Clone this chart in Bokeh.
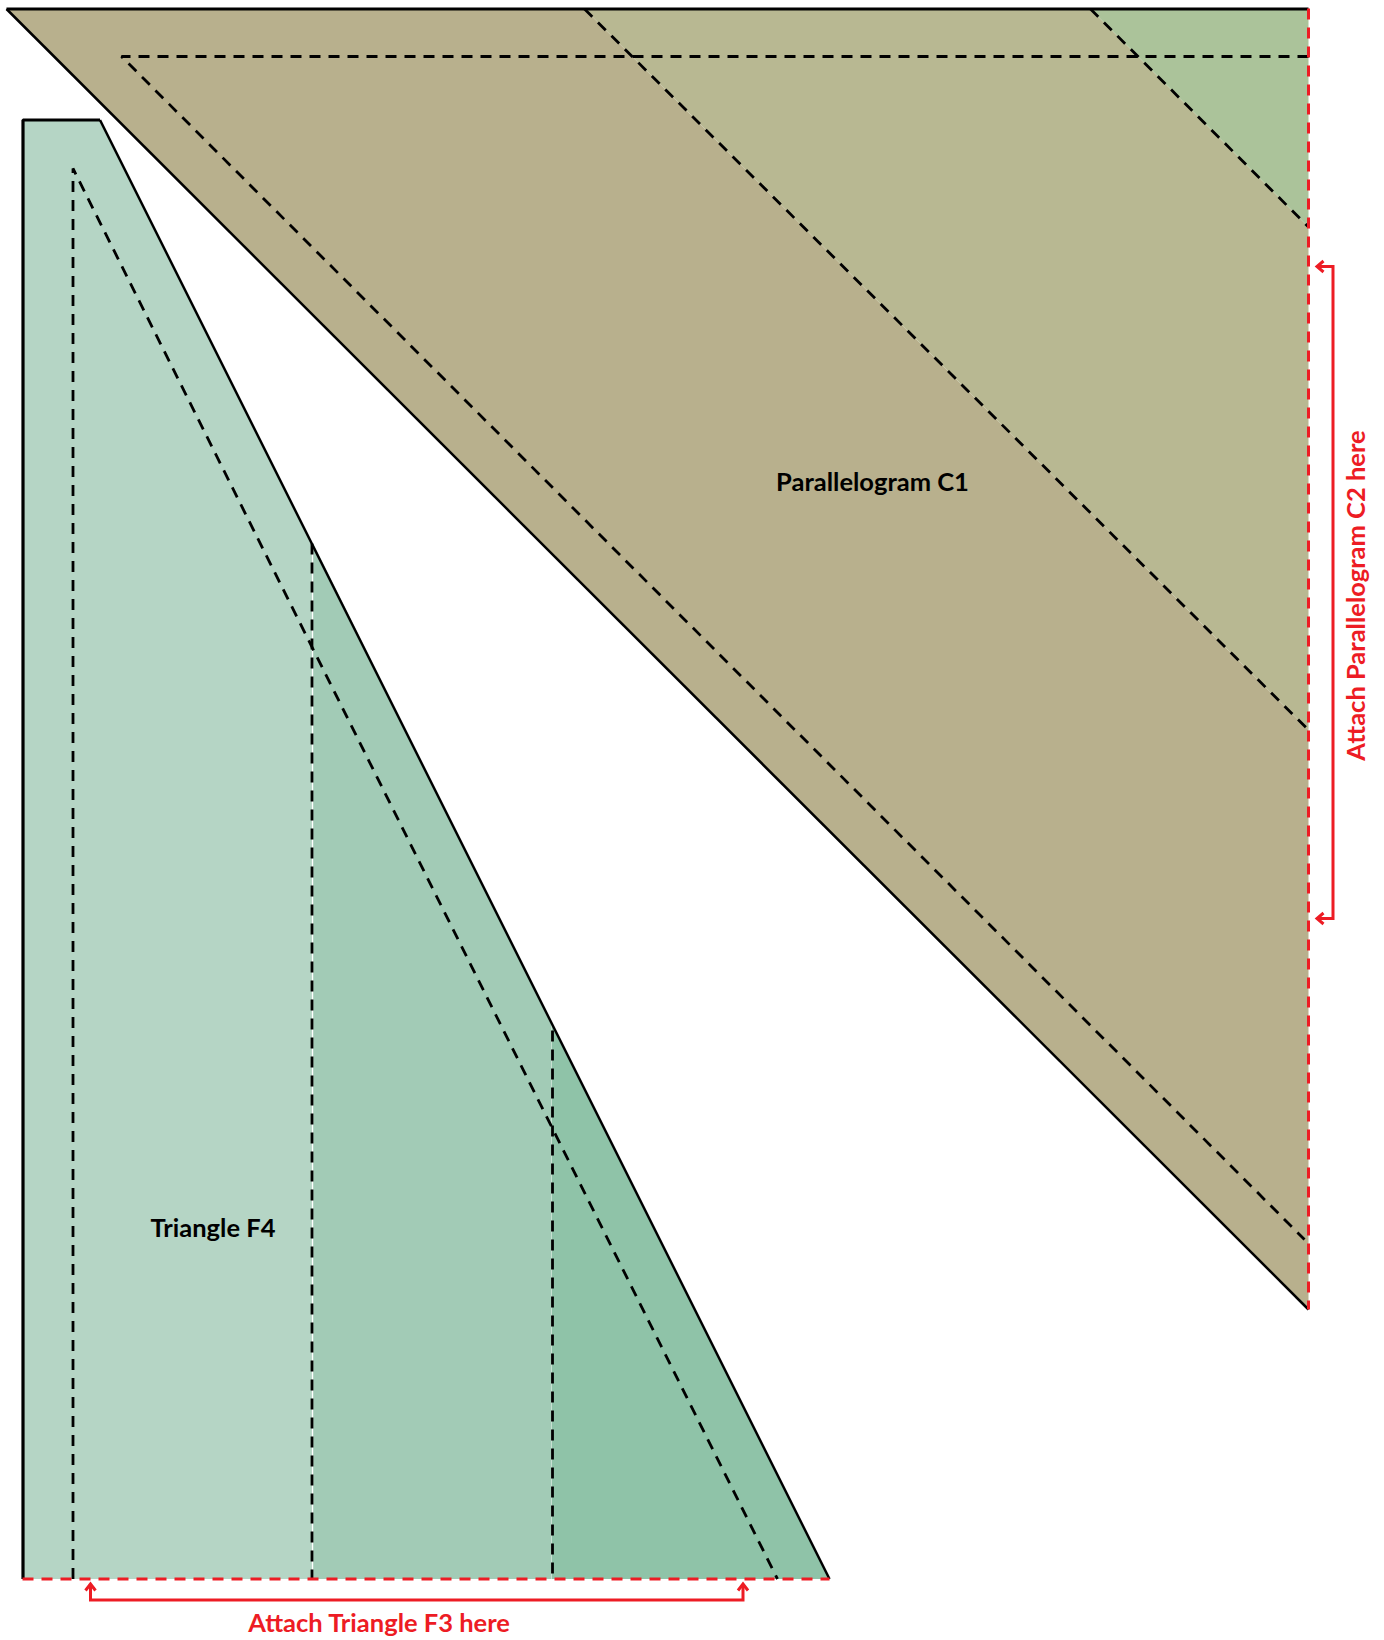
from bokeh.plotting import figure
from bokeh.models import Range1d
from bokeh.core.properties import value
from bokeh.embed import file_html
from bokeh.resources import INLINE
import math

# Parallelogram C1 regions
c1_a_x = [6, 584, 1308, 1308]
c1_a_y = [8.5, 8.5, 729.5, 1309]
c1_b_x = [584, 1090, 1308, 1308]
c1_b_y = [8.5, 8.5, 226.5, 729.5]
c1_c_x = [1090, 1308, 1308]
c1_c_y = [8.5, 8.5, 226.5]
# Triangle F4 regions
f4_a_x = [22.5, 99.5, 311.4, 311.4, 22.5]
f4_a_y = [119.5, 119.5, 543, 1578.5, 1578.5]
f4_b_x = [312.7, 551, 551, 312.7]
f4_b_y = [543, 1024, 1578.5, 1578.5]
f4_c_x = [551.4, 829, 551.4]
f4_c_y = [1024, 1578.5, 1578.5]
region_colors = ["#b8b08d", "#b8b892", "#abc39a", "#b5d5c5", "#a2cbb6", "#8fc3a8"]

# Solid outlines
thick_x = [[6, 1308], [22.5, 22.5, 99.5]]
thick_y = [[8.5, 8.5], [1578.5, 119.5, 119.5]]
thin_x = [[6, 1308], [99.5, 829]]
thin_y = [[8.5, 1309], [119.5, 1578.5]]
# Dashed fold lines
fold_x = [[1308, 121, 1304], [584, 1308], [1090, 1308],
          [72.5, 72.5, 777], [311.5, 311.5], [552, 552]]
fold_y = [[56, 56, 1239], [8.5, 729.5], [8.5, 226.5],
          [1578.5, 168, 1578.5], [543, 1578.5], [1030, 1578.5]]
# Attachment edges
edge_x = [[1308, 1308], [22, 829]]
edge_y = [[8, 1309], [1578.5, 1578.5]]
# Brackets and arrow heads
bracket_x = [[1316.5, 1332.5, 1332.5, 1316.5], [90, 90, 742.5, 742.5]]
bracket_y = [[266, 266, 918, 918], [1583.5, 1599.5, 1599.5, 1583.5]]
head_x = [[1323, 1316.5, 1323], [1323, 1316.5, 1323], [85, 90, 95], [737.5, 742.5, 747.5]]
head_y = [[260.5, 266, 271.5], [912.5, 918, 923.5], [1590, 1583.5, 1590], [1590, 1583.5, 1590]]
# Labels
black_labels = ["Parallelogram C1", "Triangle F4"]
black_x = [872, 212.5]
black_y = [480, 1226]
red_label_h = ["Attach Triangle F3 here"]
red_h_x = [379]
red_h_y = [1621.5]
red_label_v = ["Attach Parallelogram C2 here"]
red_v_x = [1354]
red_v_y = [595]

RED = "#ed1c24"
FONT = value("Lato")
SIZE = "25.5px"

p = figure(width=1384, height=1640, toolbar_location=None, output_backend="svg",
           x_range=Range1d(0, 1384), y_range=Range1d(1640, 0),
           min_border=0, outline_line_color=None, margin=(0, 0, 0, 0))
p.xaxis.visible = False
p.yaxis.visible = False
p.grid.visible = False

regions = [(c1_a_x, c1_a_y), (c1_b_x, c1_b_y), (c1_c_x, c1_c_y),
           (f4_a_x, f4_a_y), (f4_b_x, f4_b_y), (f4_c_x, f4_c_y)]
for (xs, ys), c in zip(regions, region_colors):
    p.patch(xs, ys, fill_color=c, line_color=None)

p.multi_line(thin_x, thin_y, line_color="black", line_width=2.5)
p.multi_line(thick_x, thick_y, line_color="black", line_width=3.2)
p.multi_line(fold_x, fold_y, line_color="black", line_width=2.8, line_dash=value("11 8"))
p.multi_line(edge_x, edge_y, line_color=RED, line_width=3, line_dash=value("11 8"))
p.multi_line(bracket_x, bracket_y, line_color=RED, line_width=3, line_join="miter")
p.multi_line(head_x, head_y, line_color=RED, line_width=3, line_join="miter")

p.text(black_x, black_y, text=black_labels, text_color="black", text_font=FONT,
       text_font_style="bold", text_font_size=SIZE, text_align="center", text_baseline="middle")
p.text(red_h_x, red_h_y, text=red_label_h, text_color=RED, text_font=FONT,
       text_font_style="bold", text_font_size=SIZE, text_align="center", text_baseline="middle")
p.text(red_v_x, red_v_y, text=red_label_v, text_color=RED, text_font=FONT, angle=math.pi / 2,
       text_font_style="bold", text_font_size=SIZE, text_align="center", text_baseline="middle")

open("out.html", "w").write(file_html(p, INLINE))
